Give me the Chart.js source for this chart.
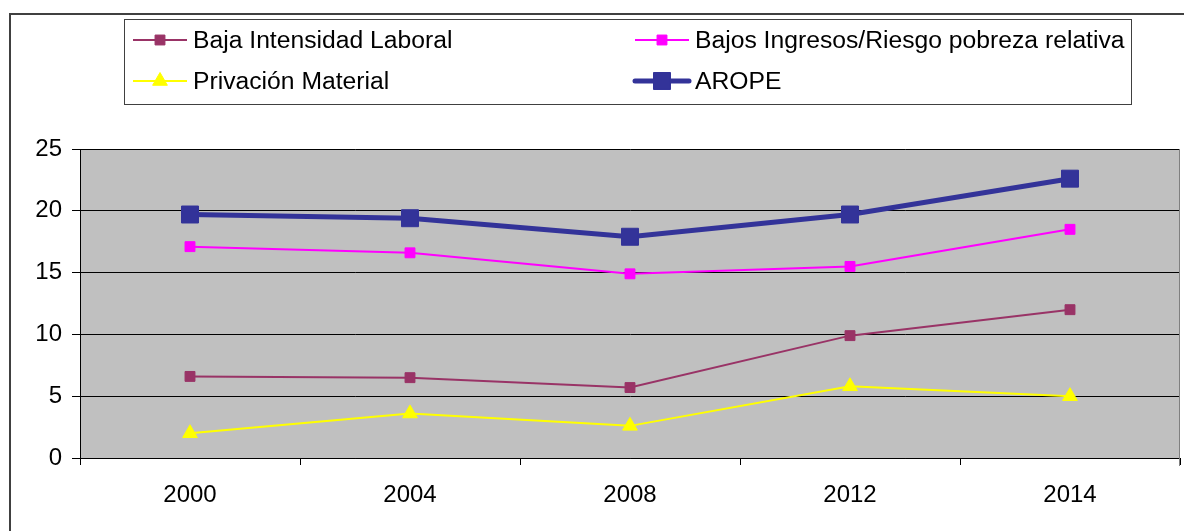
<!DOCTYPE html>
<html>
<head>
<meta charset="utf-8">
<script src="https://cdn.jsdelivr.net/npm/chart.js@4/dist/chart.umd.min.js"></script>
<style>
  html, body { margin: 0; padding: 0; background: #fff; }
  #wrap { width: 1184px; height: 531px; position: relative; }
</style>
</head>
<body>
<div id="wrap"><canvas id="myChart"></canvas></div>
<script>
var years = ["2000", "2004", "2008", "2012", "2014"];
var seriesNames = ["Baja Intensidad Laboral", "Bajos Ingresos/Riesgo pobreza relativa", "Privación Material", "AROPE"];
var bajaIntensidad = [6.6, 6.5, 5.7, 9.9, 12.0];
var bajosIngresos = [17.1, 16.6, 14.9, 15.5, 18.5];
var privacion = [2.0, 3.6, 2.6, 5.8, 5.0];
var arope = [19.7, 19.4, 17.9, 19.7, 22.6];
var yTicks = [0, 5, 10, 15, 20, 25];

var font = "Liberation Sans, Arial, sans-serif";

function drawMarker(ctx, style, r, x, y) {
  ctx.beginPath();
  if (style === "triangle") {
    ctx.moveTo(x, y - r);
    ctx.lineTo(x + r * 0.866, y + r / 2);
    ctx.lineTo(x - r * 0.866, y + r / 2);
    ctx.closePath();
  } else {
    var h = r * Math.SQRT1_2;
    ctx.rect(x - h, y - h, 2 * h, 2 * h);
  }
  ctx.fill();
  ctx.stroke();
}

// plot background, outer frame and legend box
var framePlugin = {
  id: "frame",
  beforeDraw: function (chart) {
    var ctx = chart.ctx, a = chart.chartArea;
    ctx.save();
    ctx.fillStyle = "#C0C0C0";
    ctx.fillRect(a.left, a.top, a.right - a.left, a.bottom - a.top);
    ctx.strokeStyle = "#404040";
    ctx.lineWidth = 2;
    ctx.beginPath();
    ctx.moveTo(10, 600);
    ctx.lineTo(10, 14);
    ctx.lineTo(1300, 14);
    ctx.stroke();
    ctx.restore();
  },
  afterDatasetsDraw: function (chart) {
    var ctx = chart.ctx, a = chart.chartArea;
    ctx.save();
    ctx.strokeStyle = "#808080";
    ctx.lineWidth = 1;
    ctx.beginPath();
    ctx.moveTo(a.right - 0.5, a.top);
    ctx.lineTo(a.right - 0.5, a.bottom + 8);
    ctx.stroke();

    ctx.strokeStyle = "#404040";
    ctx.strokeRect(124.5, 19.5, 1007, 85);

    var spots = [
      { x: 133, y: 40 }, { x: 635, y: 40 },
      { x: 133, y: 81 }, { x: 635, y: 81 }
    ];
    chart.data.datasets.forEach(function (ds, i) {
      var s = spots[i];
      ctx.strokeStyle = ds.borderColor;
      ctx.lineWidth = ds.borderWidth;
      ctx.lineCap = ds.borderWidth > 3 ? "round" : "butt";
      ctx.beginPath();
      ctx.moveTo(s.x, s.y);
      ctx.lineTo(s.x + 54, s.y);
      ctx.stroke();
      ctx.lineCap = "butt";
      ctx.fillStyle = ds.pointBackgroundColor;
      ctx.strokeStyle = ds.pointBackgroundColor;
      ctx.lineWidth = 1;
      drawMarker(ctx, ds.pointStyle, ds.pointRadius, s.x + 27, s.y);
      ctx.fillStyle = "#000";
      ctx.font = "24.7px " + font;
      ctx.textBaseline = "alphabetic";
      ctx.fillText(ds.label, s.x + 60, s.y + 8);
    });
    ctx.restore();
  }
};

function line(label, data, color, width, style, radius) {
  return {
    label: label,
    data: data,
    borderColor: color,
    backgroundColor: color,
    borderWidth: width,
    pointStyle: style,
    pointRadius: radius,
    pointHoverRadius: radius,
    pointBackgroundColor: color,
    pointBorderColor: color,
    pointBorderWidth: 1,
    tension: 0,
    fill: false
  };
}

new Chart("myChart", {
  type: "line",
  data: {
    labels: years,
    datasets: [
      line(seriesNames[0], bajaIntensidad, "#993366", 2, "rect", 7),
      line(seriesNames[1], bajosIngresos, "#FF00FF", 2, "rect", 7),
      line(seriesNames[2], privacion, "#FFFF00", 2, "triangle", 8.5),
      line(seriesNames[3], arope, "#333399", 5, "rect", 12)
    ]
  },
  options: {
    responsive: true,
    maintainAspectRatio: false,
    animation: false,
    layout: { autoPadding: false, padding: { top: 149, right: 4, left: 0, bottom: 0 } },
    plugins: {
      legend: { display: false },
      tooltip: { enabled: false }
    },
    scales: {
      x: {
        offset: true,
        grid: { offset: true, drawOnChartArea: false, tickLength: 7, color: "#000" },
        border: { color: "#000", width: 1 },
        ticks: { color: "#000", padding: 16, font: { family: font, size: 24 } },
        afterFit: function (s) { s.height = 73; s.paddingLeft = 0; s.paddingRight = 0; }
      },
      y: {
        min: 0,
        max: 25,
        afterBuildTicks: function (s) { s.ticks = yTicks.map(function (v) { return { value: v }; }); },
        grid: { color: "#000", tickLength: 8 },
        border: { color: "#000", width: 1 },
        ticks: { color: "#000", padding: 10, font: { family: font, size: 24 } },
        afterFit: function (s) { s.width = 80; s.paddingTop = 0; s.paddingBottom = 0; }
      }
    }
  },
  plugins: [framePlugin]
});
</script>
</body>
</html>
